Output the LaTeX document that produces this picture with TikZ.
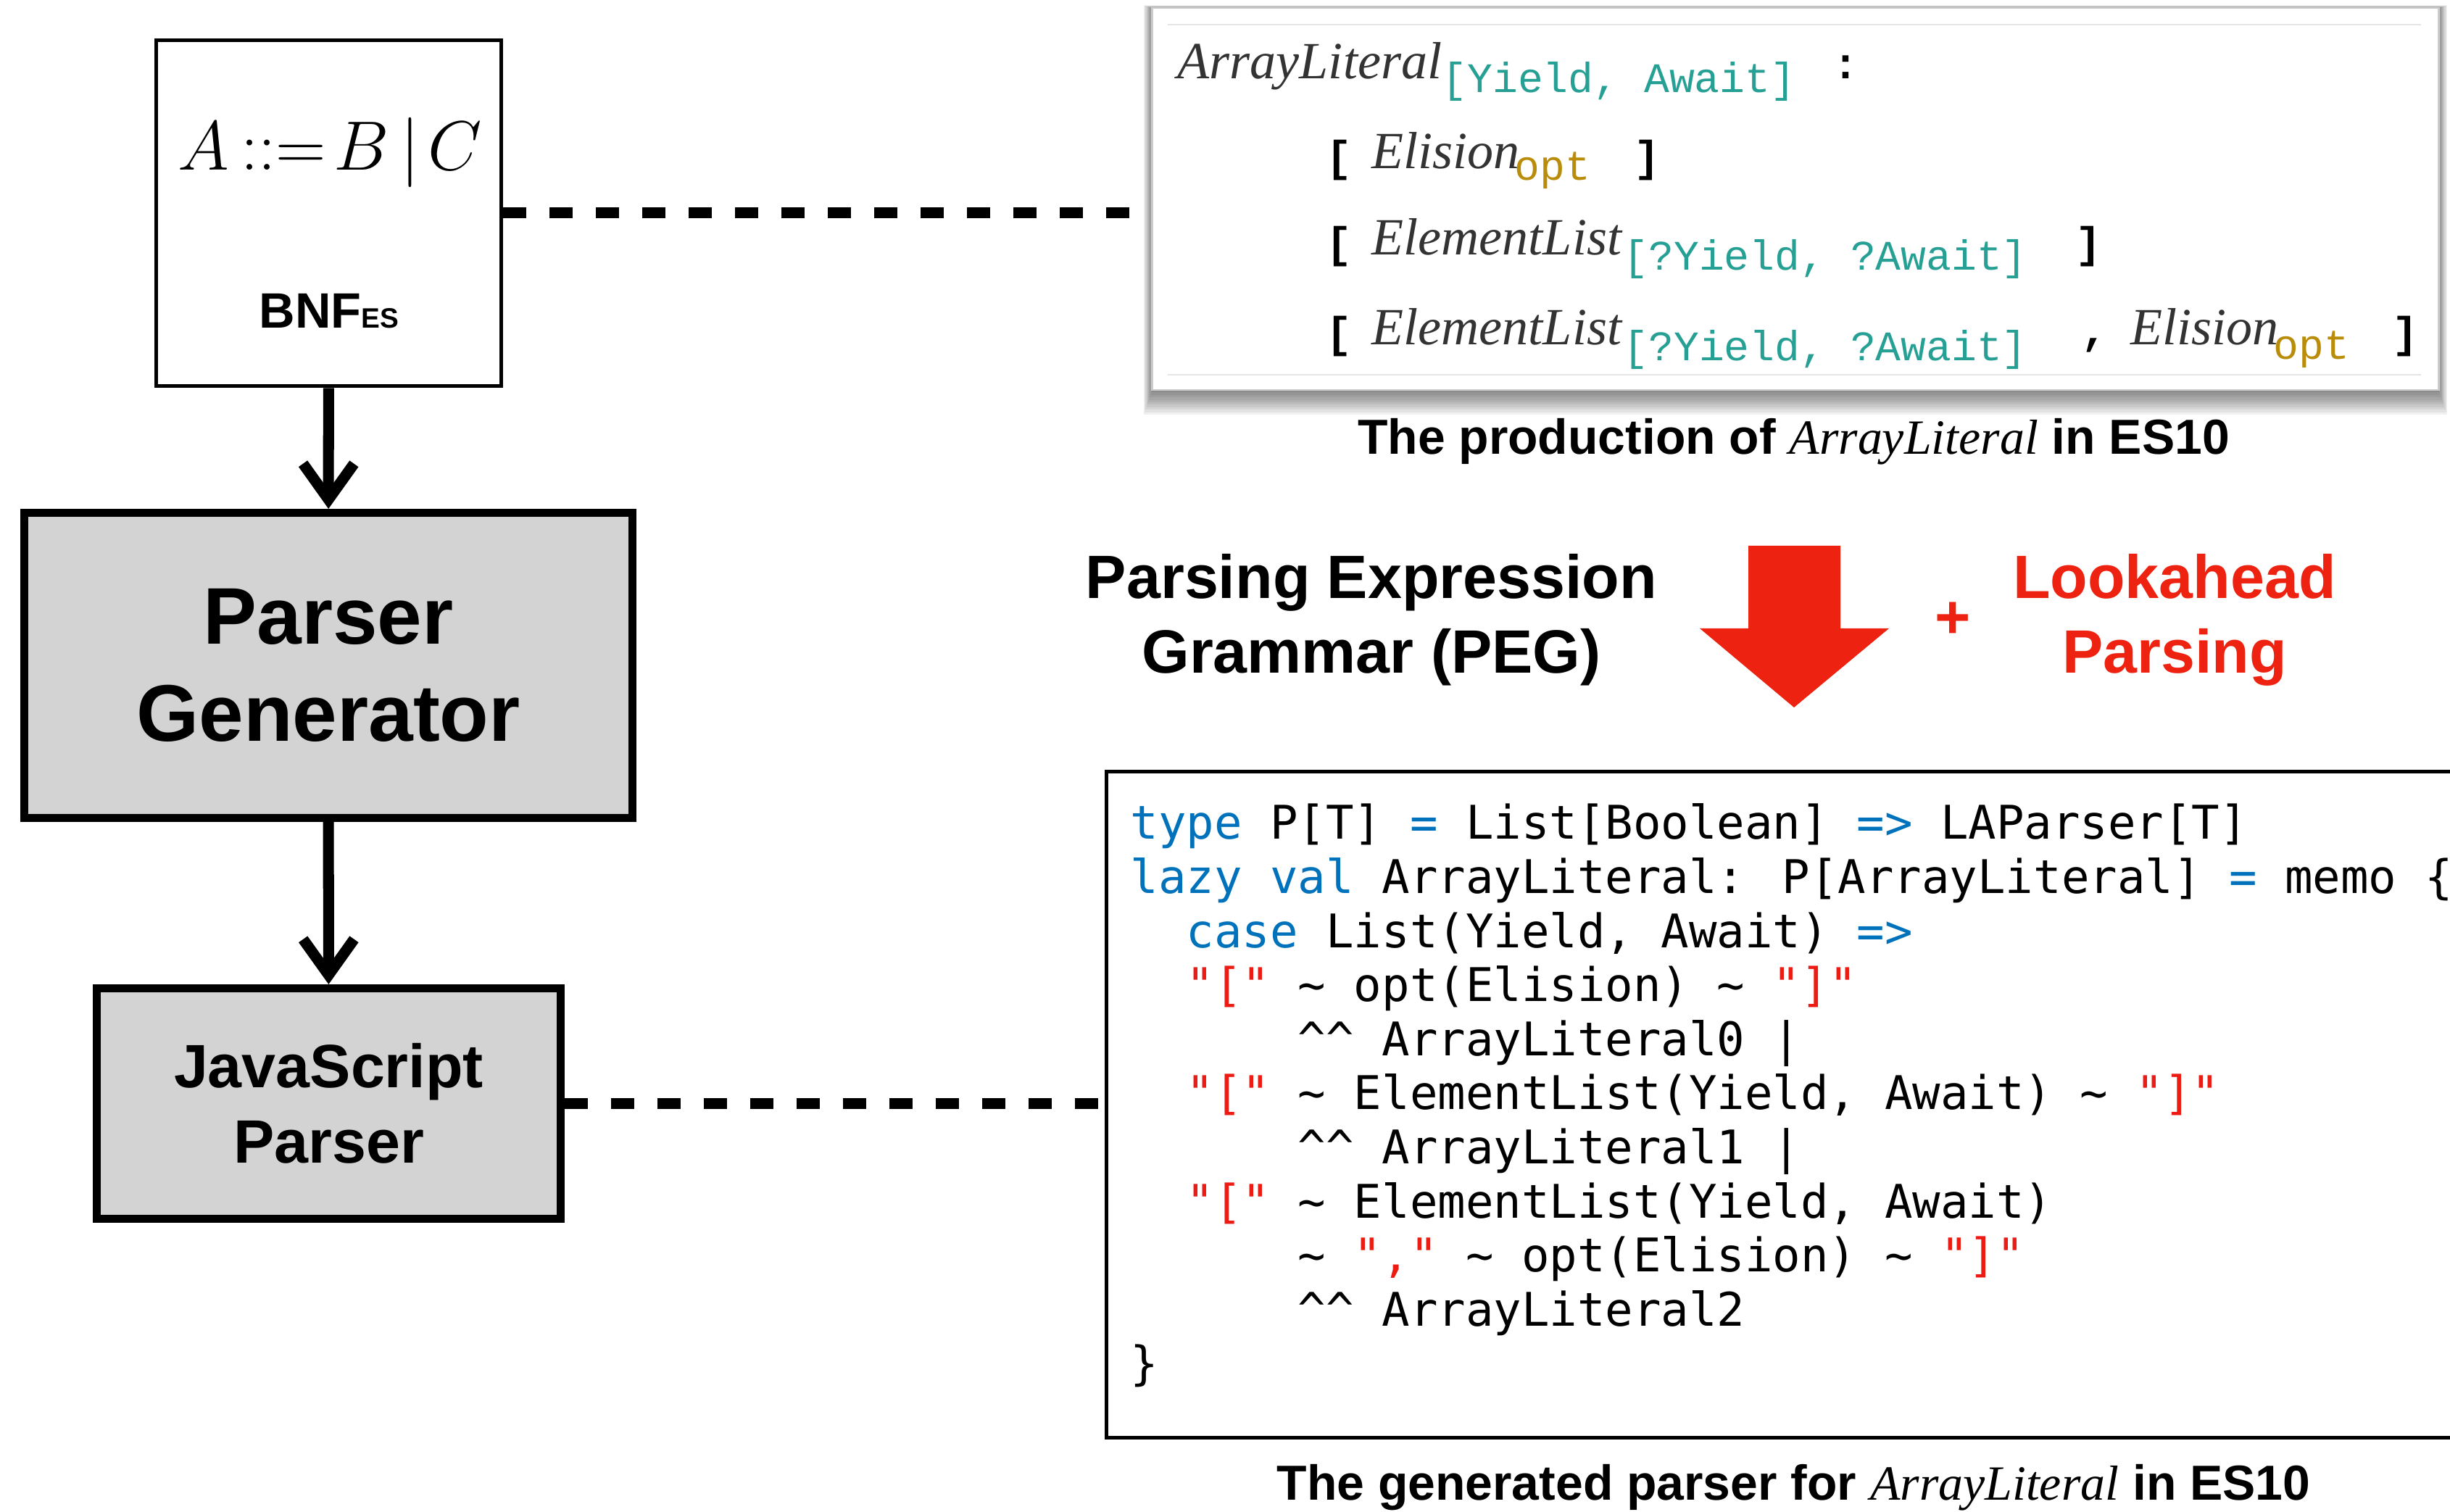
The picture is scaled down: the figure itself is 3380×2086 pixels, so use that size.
\documentclass[tikz,border=0pt]{standalone}
\usepackage{graphicx}
\usepackage{fontspec}
\newfontfamily\helv{Liberation Sans}
\newfontfamily\specserif{Liberation Serif}
\newfontfamily\specmono{Liberation Mono}
\newfontfamily\codefont{DejaVu Sans Mono}
\usetikzlibrary{arrows.meta}

\definecolor{boxgray}{RGB}{211,211,211}
\definecolor{hotred}{RGB}{238,34,17}
\definecolor{kwblue}{RGB}{0,114,188}
\definecolor{strred}{RGB}{236,28,20}
\definecolor{specteal}{RGB}{38,160,148}
\definecolor{specgold}{RGB}{185,140,10}
\definecolor{specink}{RGB}{51,51,51}

\newcommand\codekw[1]{\textcolor{kwblue}{#1}}
\newcommand\codestr[1]{\textcolor{strred}{#1}}
\newcommand\codetilde{\textasciitilde}
\newcommand\codehat{\textasciicircum\textasciicircum}

\begin{document}
\begin{tikzpicture}[x=0.01cm,y=-0.01cm,
        box/.style={draw,line width=3.1pt,fill=boxgray,inner sep=0pt,align=center},
        flow/.style={line width=4.27pt,-{Straight Barb[length=14pt,width=20pt]}},
        link/.style={line width=4.27pt,dash pattern=on 9.1pt off 9.1pt},
        prodname/.style={inner sep=0pt,anchor=base west,text=specink,font=\specserif\itshape\fontsize{20.5}{24}\selectfont},
        prodparam/.style={inner sep=0pt,anchor=base west,text=specteal,font=\specmono\fontsize{16.5}{18}\selectfont},
        prodopt/.style={prodparam,text=specgold},
        prodpunct/.style={inner sep=0pt,anchor=base west,font=\specmono\bfseries\fontsize{17}{18}\selectfont},
        listing/.style={inner sep=0pt,anchor=base west,font=\codefont\fontsize{18.2}{21}\selectfont},
        caption/.style={inner sep=0pt,anchor=base,font=\helv\bfseries\fontsize{19.3}{22}\selectfont}]
        \useasboundingbox (0,0) rectangle (3380,2086);
        \clip (0,0) rectangle (3380,2086);

        % left column
        \node[draw,line width=1.5pt,minimum width=4.76cm,minimum height=4.77cm,inner sep=0pt] (bnf) at (453.5,294) {};
        \node[anchor=base,font=\fontsize{24.88}{30}\selectfont] (rule) at (455,235) {\scalebox{1.1}{$A\mskip3mu{:}{:}{=}\mskip2mu B\mskip3mu\Big|\mskip2mu C$}};
        \node[anchor=base,font=\helv\bfseries\fontsize{19.5}{20}\selectfont] (bnflabel) at (454,453) {BNF{\fontsize{11}{11}\selectfont ES}};

        \node[box,minimum width=8.39cm,minimum height=4.21cm,font=\helv\bfseries\fontsize{31.5}{38.1}\selectfont] (pgen) at (453,918) {Parser\\Generator};
        \node[box,minimum width=6.4cm,minimum height=3.18cm,font=\helv\bfseries\fontsize{24}{29.6}\selectfont] (jsparser) at (453.5,1522.5) {JavaScript\\Parser};

        \draw[flow] (bnf) -- (pgen);
        \draw[flow] (pgen) -- (jsparser);

        % spec screenshot
        \foreach \s in {1,...,10}
            \fill[black,opacity=.06] (1590-1.2*\s,11.5-0.4*\s) rectangle (3364+1.2*\s,538+3.4*\s);
        \node[draw=black!20,fill=white,line width=0.6pt,minimum width=17.74cm,minimum height=5.265cm,inner sep=0pt] (spec) at (2477,274.75) {};
        \draw[black!10,line width=0.5pt] (1611,34) -- (3340,34) (1611,517) -- (3340,517);

        \node[prodname] at (1624,109) {ArrayLiteral};
        \node[prodparam] at (1989,128) {[Yield, Await]};
        \node[prodpunct] at (2528,109) {:};

        \node[prodpunct] at (1829,237) {[};
        \node[prodname] at (1892,233) {Elision};
        \node[prodopt] at (2089,249) {opt};
        \node[prodpunct] at (2254,237) {]};

        \node[prodpunct] at (1829,356) {[};
        \node[prodname] at (1892,352) {ElementList};
        \node[prodparam] at (2239,373) {[?Yield, ?Await]};
        \node[prodpunct] at (2863,356) {]};

        \node[prodpunct] at (1829,480) {[};
        \node[prodname] at (1892,476) {ElementList};
        \node[prodparam] at (2239,498) {[?Yield, ?Await]};
        \node[prodpunct] at (2871,476) {,};
        \node[prodname] at (2939,476) {Elision};
        \node[prodopt] at (3136,496) {opt};
        \node[prodpunct] at (3300,480) {]};

        \node[caption] (speccap) at (2474.5,627) {The production of {\specserif\itshape\mdseries ArrayLiteral} in ES10};

        \draw[link] (bnf.east) -- ([xshift=-6.5pt]bnf.east -| spec.west);

        % middle row
        \node[align=center,font=\helv\bfseries\fontsize{24}{29.3}\selectfont] (peg) at (1892,855) {Parsing Expression\\Grammar (PEG)};
        \fill[hotred] (2412,753) -- (2539,753) -- (2539,867) -- (2606,867) -- (2475,976) -- (2345,867) -- (2412,867) -- cycle;
        \node[font=\helv\bfseries\fontsize{24}{24}\selectfont,text=hotred] (plus) at (2694,856) {+};
        \node[align=center,text=hotred,font=\helv\bfseries\fontsize{24}{29.3}\selectfont] (lookahead) at (3000,855) {Lookahead\\Parsing};

        % generated code
        \node[draw,line width=1.42pt,minimum width=19cm,minimum height=9.185cm,inner sep=0pt] (code) at (2477.5,1523.75) {};
        \foreach \ln [count=\i from 0] in {
            {\codekw{type} P[T] \codekw{=} List[Boolean] \codekw{=>} LAParser[T]},
            {\codekw{lazy val} ArrayLiteral: P[ArrayLiteral] \codekw{=} memo \{},
            {\phantom{xx}\codekw{case} List(Yield, Await) \codekw{=>}},
            {\phantom{xx}\codestr{"["} \codetilde{} opt(Elision) \codetilde{} \codestr{"]"}},
            {\phantom{xxxxxx}\codehat{} ArrayLiteral0 |},
            {\phantom{xx}\codestr{"["} \codetilde{} ElementList(Yield, Await) \codetilde{} \codestr{"]"}},
            {\phantom{xxxxxx}\codehat{} ArrayLiteral1 |},
            {\phantom{xx}\codestr{"["} \codetilde{} ElementList(Yield, Await)},
            {\phantom{xxxxxx}\codetilde{} \codestr{","} \codetilde{} opt(Elision) \codetilde{} \codestr{"]"}},
            {\phantom{xxxxxx}\codehat{} ArrayLiteral2},
            {\}}}
            \node[listing] at (1559,1158+74.6*\i) {\ln};

        \node[caption] (codecap) at (2474.5,2070) {The generated parser for {\specserif\itshape\mdseries ArrayLiteral} in ES10};

        \draw[link] (jsparser.east) -- (jsparser.east -| code.west);
    \end{tikzpicture}
\end{document}
